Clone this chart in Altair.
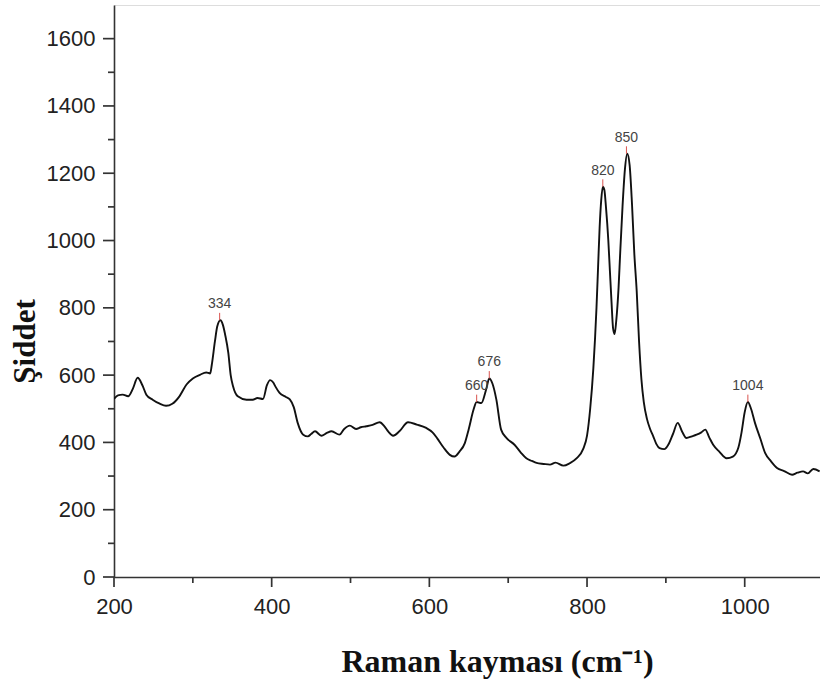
import altair as alt
import pandas as pd

# Raman spectrum
shift = [200, 205, 211, 218, 224, 230, 236, 241, 249, 258, 266, 274, 283, 292, 300, 309, 317, 322,
         324, 328, 331, 335, 338, 341, 345, 348, 351, 357, 368, 376, 382, 389, 394, 398, 402, 405,
         410, 418, 423, 428, 433, 440, 446, 450, 455, 463, 470, 476, 486, 492, 499, 507, 513, 520,
         528, 537, 543, 548, 554, 562, 573, 584, 596, 604, 610, 618, 626, 632, 638, 645, 650, 656,
         660, 666, 672, 676, 680, 685, 691, 698, 708, 716, 723, 730, 736, 745, 753, 760, 770, 778,
         787, 795, 800, 804, 808, 812, 814, 816, 818, 820, 822, 824, 827, 829, 831, 833, 835, 837,
         840, 842, 845, 848, 851, 854, 857, 860, 863, 866, 869, 872, 876, 880, 884, 888, 892, 898,
         903, 909, 915, 921, 926, 933, 939, 945, 950, 955, 960, 968, 977, 985, 992, 996, 1000,
         1004, 1008, 1013, 1020, 1026, 1033, 1041, 1050, 1060, 1067, 1074, 1080, 1087, 1095]
intensity = [529, 540, 542, 537, 560, 592, 570, 542, 527, 515, 509, 515, 537, 572, 590, 601, 608, 605,
             630, 700, 745, 763, 750, 720, 666, 600, 567, 537, 527, 527, 532, 529, 570, 585, 578, 565,
             547, 535, 528, 505, 458, 423, 418, 425, 433, 420, 428, 433, 423, 440, 450, 440, 445, 448,
             452, 460, 448, 432, 420, 433, 460, 453, 443, 430, 412, 385, 363, 358, 372, 398, 440, 497,
             520, 517, 557, 590, 575, 527, 438, 413, 393, 370, 353, 345, 339, 336, 334, 340, 331, 338,
             353, 380, 420, 500, 620, 800, 920, 1040, 1120, 1160, 1150, 1100, 1000, 910, 820, 740, 722, 760,
             860, 960, 1100, 1210, 1258, 1225, 1110, 960, 850, 700, 587, 520, 470, 440, 418, 395, 383, 380,
             393, 425, 458, 430, 413, 418, 423, 430, 438, 415, 393, 372, 353, 358, 385, 430, 490,
             520, 500, 458, 410, 368, 345, 324, 315, 304, 310, 314, 308, 321, 314]

peak_x = [334, 660, 676, 820, 850, 1004]
peak_y = [763, 520, 590, 1160, 1258, 520]
peak_label = ["334", "660", "676", "820", "850", "1004"]

x_major = [200, 400, 600, 800, 1000]
x_minor = [300, 500, 700, 900]
y_major = [0, 200, 400, 600, 800, 1000, 1200, 1400, 1600]
y_minor = [100, 300, 500, 700, 900, 1100, 1300, 1500]

W, H = 706, 572
spec = pd.DataFrame({"x": shift, "y": intensity})
peaks = pd.DataFrame({"x": peak_x, "y": peak_y, "label": peak_label})
peaks["y2"] = peaks["y"] + 22

xs = alt.Scale(domain=[200, 1095.5], nice=False, zero=False)
ys = alt.Scale(domain=[0, 1700], nice=False)

axis_common = dict(domainColor="#333", domainWidth=1.6, ticks=False, tickSize=0, labelPadding=19,
                   labelFont="Liberation Sans", labelFontSize=22, labelColor="#222", grid=False,
                   format="d", labelFlush=False)

line = alt.Chart(spec).mark_line(color="#111", strokeWidth=1.9, clip=True, interpolate="monotone").encode(
    x=alt.X("x:Q", scale=xs, axis=alt.Axis(
        values=x_major, title="Raman kayması (cm⁻¹)",
        titleFont="Liberation Serif", titleFontWeight="bold", titleFontSize=32, titleColor="#111",
        titleX=383, titleY=94, titleBaseline="alphabetic", titleAlign="center", **axis_common)),
    y=alt.Y("y:Q", scale=ys, axis=alt.Axis(
        values=y_major, title="Şiddet",
        titleFont="Liberation Serif", titleFontWeight="bold", titleFontSize=31, titleColor="#111",
        titleX=-80, titleY=336, titleBaseline="alphabetic", titleAlign="center", titleAngle=-90,
        **axis_common)),
)

def xticks(vals, size):
    return alt.Chart(pd.DataFrame({"v": vals})).mark_rule(color="#333", strokeWidth=1.7).encode(
        x=alt.X("v:Q", scale=xs), y=alt.value(H), y2=alt.value(H + size))

def yticks(vals, size):
    return alt.Chart(pd.DataFrame({"v": vals})).mark_rule(color="#333", strokeWidth=1.7).encode(
        y=alt.Y("v:Q", scale=ys), x=alt.value(0), x2=alt.value(-size))

marks = alt.Chart(peaks).mark_rule(color="#d9534f", strokeWidth=1).encode(
    x=alt.X("x:Q", scale=xs), y=alt.Y("y:Q", scale=ys), y2="y2:Q")

labels = alt.Chart(peaks).mark_text(font="Liberation Sans", fontSize=14, color="#444",
                                    baseline="bottom", dy=-9).encode(
    x=alt.X("x:Q", scale=xs), y=alt.Y("y:Q", scale=ys), text="label:N")

chart = alt.layer(line, xticks(x_major, 10), xticks(x_minor, 6), yticks(y_major, 11), yticks(y_minor, 6),
                  marks, labels).properties(
    width=W, height=H,
    autosize=alt.AutoSizeParams(type="none"),
    padding={"left": 114, "top": 5, "right": 0, "bottom": 107},
).configure_view(stroke=None).configure(background="white")

chart.save("out.html", embed_options={"renderer": "svg", "actions": False})
